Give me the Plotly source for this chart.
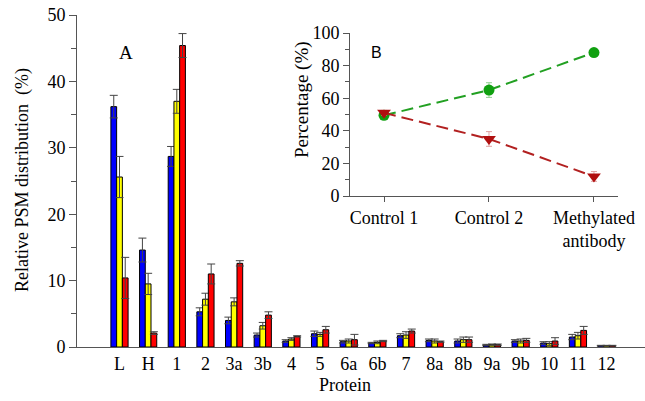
import plotly.graph_objects as go

categories = ["L", "H", "1", "2", "3a", "3b", "4", "5", "6a", "6b", "7", "8a", "8b", "9a", "9b", "10", "11", "12"]
blue_vals = [36.2, 14.6, 28.7, 5.3, 4.0, 1.8, 0.9, 2.0, 0.8, 0.6, 1.7, 1.0, 0.9, 0.3, 0.9, 0.6, 1.5, 0.2]
blue_err = [1.7, 1.8, 1.5, 0.6, 0.5, 0.3, 0.2, 0.4, 0.2, 0.1, 0.3, 0.2, 0.3, 0.1, 0.2, 0.2, 0.4, 0.05]
yellow_vals = [25.6, 9.5, 37.0, 7.2, 6.8, 3.2, 1.2, 1.9, 0.9, 0.7, 1.8, 0.9, 1.1, 0.35, 0.9, 0.5, 1.7, 0.2]
yellow_err = [3.1, 1.6, 1.8, 0.9, 0.6, 0.5, 0.2, 0.3, 0.3, 0.2, 0.5, 0.3, 0.4, 0.1, 0.3, 0.3, 0.5, 0.05]
red_vals = [10.4, 2.1, 45.4, 11.0, 12.6, 4.8, 1.6, 2.6, 1.1, 0.9, 2.4, 0.8, 1.1, 0.35, 1.0, 0.9, 2.5, 0.2]
red_err = [3.1, 0.2, 1.8, 1.5, 0.4, 0.5, 0.1, 0.5, 0.8, 0.1, 0.3, 0.1, 0.4, 0.1, 0.3, 0.5, 0.6, 0.05]

inset_labels = ["Control 1", "Control 2", "Methylated<br>antibody"]
green_vals = [49.5, 65.0, 88.0]
green_err = [2.0, 4.5, 2.0]
darkred_vals = [51.0, 35.0, 12.0]
darkred_err = [1.5, 4.5, 3.0]

serif = "Liberation Serif, Times New Roman, serif"
sans = "Liberation Sans, Arial, sans-serif"

fig = go.Figure()
for vals, errs, col in [(blue_vals, blue_err, "#0000ff"), (yellow_vals, yellow_err, "#ffff00"), (red_vals, red_err, "#ff0000")]:
    fig.add_trace(go.Bar(
        x=list(range(len(categories))), y=vals,
        marker=dict(color=col, line=dict(color="black", width=1)),
        error_y=dict(type="data", array=errs, visible=True, color="#444444", thickness=1, width=4),
        showlegend=False, xaxis="x", yaxis="y"))

fig.add_trace(go.Scatter(
    x=[0, 1, 2], y=green_vals, mode="lines+markers",
    line=dict(color="#22a022", width=2, dash="12px,6px"),
    marker=dict(symbol="circle", size=11, color="#10a010"),
    error_y=dict(type="data", array=green_err, visible=True, color="#90d090", thickness=1, width=3),
    showlegend=False, xaxis="x2", yaxis="y2"))
fig.add_trace(go.Scatter(
    x=[0, 1, 2], y=darkred_vals, mode="lines+markers",
    line=dict(color="#b22020", width=2, dash="12px,6px"),
    marker=dict(symbol="triangle-down", size=12, color="#b01010"),
    error_y=dict(type="data", array=darkred_err, visible=True, color="#e0a0a0", thickness=1, width=3),
    showlegend=False, xaxis="x2", yaxis="y2"))

L, T, B, R = 77, 15, 54, 0
W, H = 645, 401
pw, ph = W - L - R, H - T - B


def ref_to_paper(px, py):
    return (px - L) / pw, (H - B - py) / ph


def ann(text, px, py, size, family=serif, angle=0):
    x, y = ref_to_paper(px, py)
    return dict(text=text, x=x, y=y, xref="paper", yref="paper", xanchor="center", yanchor="middle",
                showarrow=False, textangle=angle, font=dict(family=family, size=size, color="black"))


ix0, iy0 = ref_to_paper(350, 196)
ix1, iy1 = ref_to_paper(618, 33)

fig.update_layout(
    width=W, height=H,
    margin=dict(l=L, r=R, t=T, b=B, autoexpand=False),
    paper_bgcolor="white", plot_bgcolor="white",
    barmode="group", bargap=0.4, bargroupgap=0,
    font=dict(family=serif, size=18, color="black"),
    xaxis=dict(range=[-1.483, 18.34], tickmode="array", tickvals=list(range(len(categories))), ticktext=categories,
               showline=True, linecolor="#555555", linewidth=1, ticks="", showgrid=False, zeroline=False,
               tickfont=dict(family=serif, size=18), automargin=False),
    yaxis=dict(range=[0, 50], tickvals=[0, 10, 20, 30, 40, 50], showline=True, linecolor="#555555", linewidth=1,
               ticks="outside", ticklen=7, tickcolor="#555555", showgrid=False, zeroline=False,
               minor=dict(tickvals=[5, 15, 25, 35, 45], ticks="outside", ticklen=5, tickcolor="#555555"),
               tickfont=dict(family=serif, size=18), automargin=False),
    xaxis2=dict(domain=[ix0, ix1], anchor="y2", range=[-0.324, 2.229], tickvals=[0, 1, 2], ticktext=inset_labels,
                showline=True, linecolor="#555555", linewidth=1, ticks="outside", ticklen=5, tickcolor="#555555",
                showgrid=False, zeroline=False, tickfont=dict(family=serif, size=18), automargin=False),
    yaxis2=dict(domain=[iy0, iy1], anchor="x2", range=[0, 100], tickvals=[0, 20, 40, 60, 80, 100],
                showline=True, linecolor="#555555", linewidth=1, ticks="outside", ticklen=6, tickcolor="#555555",
                showgrid=False, zeroline=False,
                minor=dict(tickvals=[10, 30, 50, 70, 90], ticks="outside", ticklen=4, tickcolor="#555555"),
                tickfont=dict(family=serif, size=18), automargin=False),
    annotations=[
        ann("Relative PSM distribution  (%)", 22, 180, 18, angle=-90),
        ann("Protein", 345, 385, 18),
        ann("A", 126, 53, 19),
        ann("B", 376, 53, 16, family=sans),
        ann("Percentage (%)", 302, 100, 19, angle=-90),
    ],
)

fig.write_html("out.html", config={"displayModeBar": False},
               post_script="document.body.style.margin='0';")
